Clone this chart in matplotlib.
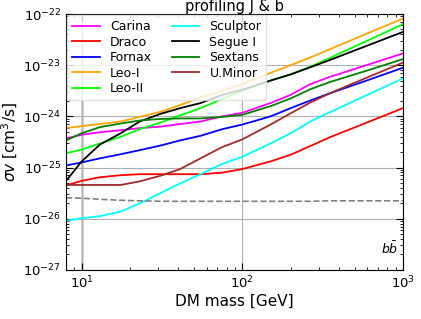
import numpy as np
import matplotlib
matplotlib.use("Agg")
import matplotlib.pyplot as plt

# --- données (log10 de sigma v) ---
masses = [8, 10, 13, 17.5, 23, 31, 41, 55, 75, 100, 150, 200, 265, 350, 620, 1000]

carina  = [-24.43, -24.36, -24.31, -24.27, -24.23, -24.20, -24.15, -24.10, -24.00, -23.93,
           -23.74, -23.58, -23.37, -23.23, -22.98, -22.77]
draco   = [-25.35, -25.26, -25.19, -25.15, -25.13, -25.13, -25.13, -25.13, -25.10, -25.03,
           -24.88, -24.75, -24.58, -24.41, -24.10, -23.84]
fornax  = [-24.96, -24.90, -24.82, -24.74, -24.66, -24.57, -24.47, -24.38, -24.25, -24.16,
           -24.00, -23.84, -23.69, -23.55, -23.28, -23.05]
leo1    = [-24.23, -24.19, -24.15, -24.10, -24.01, -23.91, -23.78, -23.63, -23.50, -23.37,
           -23.15, -23.00, -22.85, -22.69, -22.36, -22.09]
leo2    = [-24.72, -24.65, -24.53, -24.40, -24.25, -24.12, -23.98, -23.84, -23.66, -23.50,
           -23.30, -23.18, -23.03, -22.86, -22.50, -22.20]
sculpt  = [-26.04, -25.99, -25.95, -25.86, -25.70, -25.50, -25.31, -25.13, -24.93, -24.79,
           -24.53, -24.33, -24.10, -23.92, -23.56, -23.26]
segue   = [-25.26, -24.88, -24.55, -24.33, -24.10, -23.95, -23.84, -23.74, -23.58, -23.48,
           -23.30, -23.18, -23.04, -22.90, -22.60, -22.35]
sextans = [-24.47, -24.33, -24.21, -24.14, -24.08, -24.05, -24.04, -24.04, -24.01, -23.97,
           -23.80, -23.65, -23.47, -23.33, -23.09, -22.88]
uminor  = [-25.34, -25.34, -25.34, -25.34, -25.27, -25.16, -25.03, -24.82, -24.60, -24.45,
           -24.16, -23.94, -23.73, -23.55, -23.22, -22.95]
thermal = [-25.59, -25.60, -25.62, -25.64, -25.65, -25.66, -25.66, -25.66, -25.66, -25.66,
           -25.66, -25.66, -25.66, -25.65, -25.65, -25.65]

names = ["Carina", "Draco", "Fornax", "Leo-I", "Leo-II",
         "Sculptor", "Segue I", "Sextans", "U.Minor"]
series = [carina, draco, fornax, leo1, leo2, sculpt, segue, sextans, uminor]
colors = ["magenta", "red", "blue", "orange", "lime",
          "cyan", "black", "green", "brown"]

fig = plt.figure(figsize=(4.21, 3.19), dpi=100)
ax = fig.add_axes([0.157, 0.154, 0.800, 0.802])

for name, vals, c in zip(names, series, colors):
    ax.plot(masses, 10.0 ** np.array(vals), color=c, lw=1.3, label=name)
ax.plot(masses, 10.0 ** np.array(thermal), color="gray", ls="--", lw=1.2)

ax.axvline(10, color="lightgray", lw=2, zorder=0)
ax.set_xscale("log")
ax.set_yscale("log")
ax.set_xlim(8, 1000)
ax.set_ylim(1e-27, 1e-22)
ax.grid(True, which="major", color="#b0b0b0", lw=0.8)
ax.tick_params(which="both", direction="in", top=True, right=True, labelsize=9.5)
ax.tick_params(which="major", length=5)
ax.tick_params(which="minor", length=2.5)

ax.set_xlabel("DM mass [GeV]", fontsize=11, labelpad=2)
ax.set_ylabel(r"$\sigma v$ [cm$^3$/s]", fontsize=11, labelpad=2)
ax.set_title("profiling J & b", fontsize=10.5, pad=1)
ax.text(0.985, 0.05, r"$b\bar{b}$", transform=ax.transAxes,
        ha="right", va="bottom", fontsize=9)

leg = ax.legend(loc="upper left", ncol=2, fontsize=9, framealpha=0.8,
                handlelength=2.2, labelspacing=0.2, columnspacing=1.6,
                borderaxespad=0.1)
leg.get_frame().set_edgecolor("#dddddd")

fig.savefig("out.png", dpi=100)
